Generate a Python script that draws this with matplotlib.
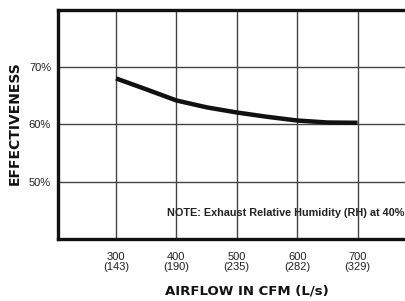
import matplotlib
matplotlib.use("Agg")
import matplotlib.pyplot as plt
from matplotlib import font_manager as fm

cfm = [300, 350, 400, 450, 500, 550, 600, 650, 700]
effectiveness = [68.05, 66.15, 64.2, 63.0, 62.1, 61.35, 60.7, 60.35, 60.3]
x_ticks = [300, 400, 500, 600, 700]
x_labels = ["300\n(143)", "400\n(190)", "500\n(235)", "600\n(282)", "700\n(329)"]
y_ticks = [50, 60, 70]
y_labels = ["50%", "60%", "70%"]

names = {f.name for f in fm.fontManager.ttflist}
fam = "Liberation Sans Narrow" if "Liberation Sans Narrow" in names else "Liberation Sans"
plt.rcParams['font.family'] = [fam, 'DejaVu Sans']

fig = plt.figure(figsize=(4.06, 3.01), dpi=100)
ax = fig.add_axes([58/406, 62/301, 1 - 58/406 + 0.01, (239-10)/301])
ax.set_xlim(204, 787)
ax.set_ylim(40, 80)

ax.plot(cfm, effectiveness, color="#111111", lw=3.2, solid_capstyle="butt",
        solid_joinstyle="round", zorder=3)

ax.set_xticks(x_ticks)
ax.set_xticklabels(x_labels, fontsize=8, color="#222222", linespacing=1.0)
ax.set_yticks(y_ticks)
ax.set_yticklabels(y_labels, fontsize=8, color="#222222")
ax.tick_params(length=0)
ax.tick_params(axis='y', pad=5)
ax.tick_params(axis='x', pad=9)
ax.grid(True, color="#444444", lw=1.0)

for s in ["left", "bottom", "top"]:
    ax.spines[s].set_linewidth(2.4)
    ax.spines[s].set_color("#111111")
ax.spines["right"].set_visible(False)

fig.text(15/406, 1 - 123/301, "EFFECTIVENESS", rotation=90, ha="center", va="center",
         fontsize=10, fontweight="bold", family=["DejaVu Sans"], color="#111111")
fig.text(247/406, 1 - 291/301, "AIRFLOW IN CFM (L/s)", ha="center", va="center",
         fontsize=9.5, fontweight="bold", family=["DejaVu Sans"], color="#111111")
fig.text(404/406, 1 - 213/301, "NOTE: Exhaust Relative Humidity (RH) at 40%", ha="right",
         va="center", fontsize=7.8, fontweight="bold", color="#222222")

fig.savefig("out.png", dpi=100)
